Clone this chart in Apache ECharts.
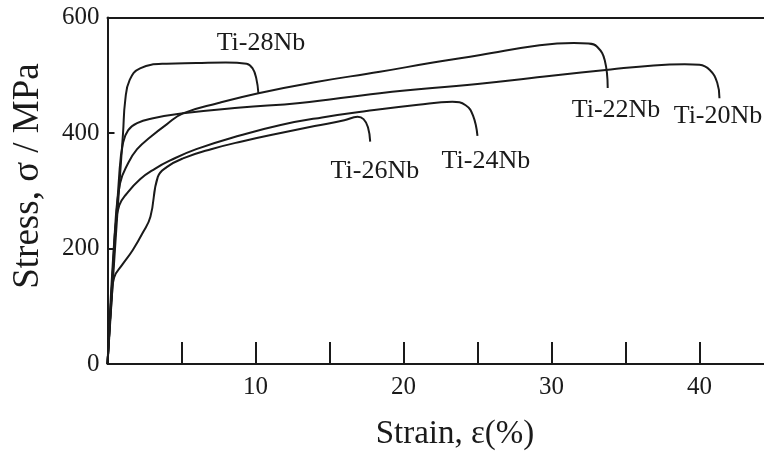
<!DOCTYPE html>
<html>
<head>
<meta charset="utf-8">
<script src="https://cdn.jsdelivr.net/npm/echarts@6/dist/echarts.min.js"></script>
<style>
  html, body { margin: 0; padding: 0; background: #fff; }
  #chart { width: 764px; height: 461px; }
</style>
</head>
<body>
<div id="chart"></div>
<script>
// Tensile stress-strain curves of binary Ti-Nb alloys
const alloys = ['Ti-28Nb', 'Ti-26Nb', 'Ti-24Nb', 'Ti-22Nb', 'Ti-20Nb'];

const strain28 = [0, 0.5, 0.8, 1.05, 1.2, 1.5, 2.2, 4, 6, 8, 9.4, 9.8, 10.05, 10.2];
const stress28 = [0, 197, 310, 400, 457, 492, 512, 520, 521, 522, 520, 512, 495, 468];

const strain26 = [0, 0.3, 0.45, 1.0, 1.7, 2.4, 2.9, 3.4, 4.0, 5.1, 7, 9, 11.7, 14, 16, 16.9, 17.3, 17.6, 17.75];
const stress26 = [0, 120, 150, 172, 197, 228, 255, 324, 341, 356, 372, 385, 400, 412, 422, 428, 424, 410, 385];

const strain24 = [0, 0.4, 0.55, 0.8, 1.3, 2.2, 3.2, 4.2, 6, 9, 11.7, 14.5, 17.5, 21, 23.3, 24.2, 24.7, 25.0];
const stress24 = [0, 180, 240, 275, 295, 320, 338, 352, 372, 396, 414, 427, 438, 449, 454, 448, 430, 395];

const strain22 = [0, 0.5, 0.85, 1.4, 2.0, 2.9, 4.0, 5.1, 7.5, 10.2, 14, 18.4, 22, 25.2, 29.2, 31.5, 32.5, 33.1, 33.6, 33.8];
const stress22 = [0, 230, 313, 348, 372, 393, 415, 434, 452, 469, 488, 506, 522, 535, 552, 556, 555, 549, 526, 478];

const strain20 = [0, 0.8, 1.05, 1.4, 2.0, 3.0, 5.1, 9, 13, 18.4, 25, 30, 34, 36.9, 39, 40, 40.7, 41.2, 41.35];
const stress20 = [0, 330, 383, 405, 417, 425, 434, 444, 452, 469, 485, 499, 510, 517, 519, 518, 509, 487, 460];

const xTickLabels = [10, 20, 30, 40];
const yTickLabels = [0, 200, 400, 600];

// where each alloy name sits, in [strain, stress] units
const nameAnchors = {
  'Ti-28Nb': [10.37, 556],
  'Ti-26Nb': [18.07, 334],
  'Ti-24Nb': [25.57, 351],
  'Ti-22Nb': [34.36, 440],
  'Ti-20Nb': [41.25, 429]
};

const curves = {
  'Ti-28Nb': [strain28, stress28],
  'Ti-26Nb': [strain26, stress26],
  'Ti-24Nb': [strain24, stress24],
  'Ti-22Nb': [strain22, stress22],
  'Ti-20Nb': [strain20, stress20]
};

const FONT = 'Liberation Serif';
const INK = '#1a1a1a';
const X_MAX = 44.36; // the strain axis runs on past the right edge of the figure

const chart = echarts.init(document.getElementById('chart'), null, { renderer: 'canvas' });

const series = alloys.map(name => {
  const [xs, ys] = curves[name];
  return {
    name: name,
    type: 'line',
    data: xs.map((x, i) => [x, ys[i]]),
    showSymbol: false,
    smooth: 0.45,
    lineStyle: { color: INK, width: 2 },
    silent: true
  };
});

chart.setOption({
  animation: false,
  backgroundColor: '#fff',
  grid: { left: 107.5, top: 17.5, right: 0, bottom: 97 },
  xAxis: [
    {
      type: 'value', min: 0, max: X_MAX, interval: 5,
      axisLine: { show: true, lineStyle: { color: INK, width: 2 } },
      axisTick: { show: true, inside: true, length: 22, lineStyle: { color: INK, width: 2 } },
      splitLine: { show: false },
      axisLabel: {
        margin: 11, fontFamily: FONT, fontSize: 25, color: INK, showMaxLabel: false,
        formatter: v => (xTickLabels.indexOf(v) >= 0 ? String(v) : '')
      }
    },
    {
      // plain frame line along the top
      type: 'value', position: 'top', min: 0, max: X_MAX,
      axisLine: { show: true, onZero: false, lineStyle: { color: INK, width: 2 } },
      axisTick: { show: false }, axisLabel: { show: false }, splitLine: { show: false }
    }
  ],
  yAxis: {
    type: 'value', min: 0, max: 600, interval: 200,
    axisLine: { show: true, lineStyle: { color: INK, width: 2 } },
    axisTick: { show: true, inside: true, length: 7, lineStyle: { color: INK, width: 2 } },
    splitLine: { show: false },
    axisLabel: {
      margin: 8, fontFamily: FONT, fontSize: 25, color: INK,
      formatter: v => (yTickLabels.indexOf(v) >= 0 ? String(v) : '')
    }
  },
  series: series
});

// axis titles and alloy names as text elements
const texts = [
  {
    type: 'text', x: 28, y: 176, rotation: Math.PI / 2,
    style: { text: 'Stress, σ / MPa', font: '37px "' + FONT + '"', fill: INK, align: 'center', verticalAlign: 'middle' }
  },
  {
    type: 'text', x: 455, y: 434,
    style: { text: 'Strain, ε(%)', font: '33px "' + FONT + '"', fill: INK, align: 'center', verticalAlign: 'middle' }
  }
];
alloys.forEach(name => {
  const p = chart.convertToPixel({ xAxisIndex: 0, yAxisIndex: 0 }, nameAnchors[name]);
  texts.push({
    type: 'text', x: p[0], y: p[1],
    style: { text: name, font: '26px "' + FONT + '"', fill: INK, align: 'center', verticalAlign: 'middle' }
  });
});
chart.setOption({ graphic: texts });
</script>
</body>
</html>
